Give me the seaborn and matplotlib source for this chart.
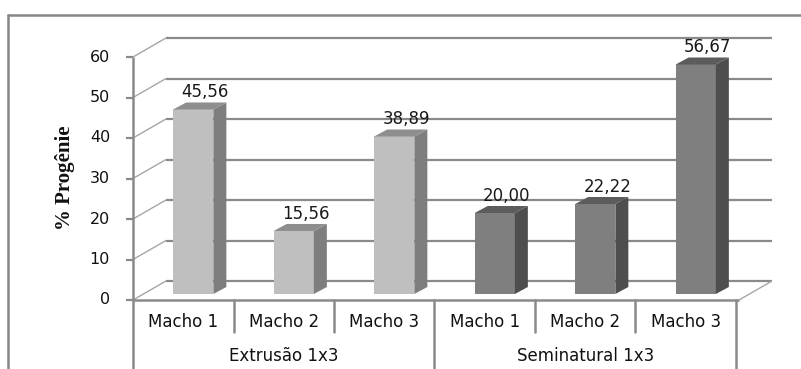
import matplotlib
matplotlib.use("Agg")
import matplotlib.pyplot as plt
import matplotlib.transforms as mtransforms
from matplotlib.patches import Polygon
from matplotlib.lines import Line2D
import numpy as np
import pandas as pd
import seaborn as sns

# ---- data -------------------------------------------------------------
groups = ["Extrusão 1x3", "Seminatural 1x3"]
machos = ["Macho 1", "Macho 2", "Macho 3"]
extrusao = [45.56, 15.56, 38.89]
seminatural = [20.00, 22.22, 56.67]
yticks = [0, 10, 20, 30, 40, 50, 60]
ylabel = "% Progênie"

df = pd.DataFrame({
    "grupo": [groups[0]] * 3 + [groups[1]] * 3,
    "macho": machos * 2,
    "prog": extrusao + seminatural,
})
df["slot"] = df["grupo"] + " / " + df["macho"]

# shading of the pseudo-3D columns: front, side, top
front_col = {groups[0]: "#bfbfbf", groups[1]: "#7f7f7f"}
side_col = {groups[0]: "#7e7e7e", groups[1]: "#4e4e4e"}
top_col = {groups[0]: "#8e8e8e", groups[1]: "#5c5c5c"}

sns.set_theme(style="white")
plt.rcParams["font.family"] = ["DejaVu Sans"]

W, H = 801, 369
fig = plt.figure(figsize=(W / 100, H / 100), dpi=100)
fig.patch.set_facecolor("white")

# front plane of the plot area (pixel layout)
px_left, px_right = 133, 736
px_zero, px_top = 300, 57
ax = fig.add_axes([px_left / W, (H - px_zero) / H,
                   (px_right - px_left) / W, (px_zero - px_top) / H])

sns.barplot(data=df, x="slot", y="prog", hue="grupo", palette=front_col,
            dodge=False, width=0.4, saturation=1, legend=False, ax=ax,
            zorder=3)
ax.set_xlim(-0.5, 5.5)
ax.set_ylim(0, 60)
ax.autoscale(False)
ax.set_axis_off()

ident = mtransforms.IdentityTransform()
grid_c = "#8a8a8a"
wall_dx, wall_dy = 33, 19      # depth of the back wall
bar_dx, bar_dy = 10, 6         # columns stand a bit behind the front edge
dep_dx, dep_dy = 13, 7         # depth of each column


def disp(x, y, dx=0.0, dy=0.0):
    p = ax.transData.transform((x, y))
    return np.array([p[0] + dx, p[1] + dy])


def seg(p, q, color, lw, z=0.5):
    ax.add_artist(Line2D([p[0], q[0]], [p[1], q[1]], transform=ident,
                         color=color, lw=lw, zorder=z, clip_on=False,
                         solid_capstyle="butt"))


x_lo, x_hi = -0.5, 5.53
# back wall gridlines and side-wall diagonals
for v in yticks:
    a = disp(x_lo, v, wall_dx, wall_dy)
    b = disp(x_hi, v, wall_dx, wall_dy)
    seg(a, b, grid_c, 1.6)
    seg(disp(x_lo, v), a, "#a6a6a6", 1.0)
    # tick mark on the front axis
    seg(disp(x_lo, v, -7), disp(x_lo, v), grid_c, 1.6)
    ax.text(x_lo, v, str(v), transform=mtransforms.offset_copy(
        ax.transData, fig=fig, x=-23, y=0, units="dots"),
        ha="right", va="center", fontsize=11.5, color="#111111")

# floor: right diagonal and front edge
seg(disp(x_hi, 0), disp(x_hi, 0, wall_dx, wall_dy), "#a6a6a6", 1.0)
seg(disp(x_lo, 0), disp(x_hi, 0), grid_c, 1.8, z=1)
# front vertical axis
seg(disp(x_lo, 0), disp(x_lo, 60), grid_c, 1.8, z=1)

# pseudo-3D faces of the columns
bar_tr = mtransforms.offset_copy(ax.transData, fig=fig, x=bar_dx, y=bar_dy,
                                 units="dots")
for patch in list(ax.patches):
    x0 = patch.get_x()
    w = patch.get_width()
    h = patch.get_height()
    x1 = x0 + w
    idx = int(round(x0 + w / 2))
    g = df["grupo"].iloc[idx]
    patch.set_transform(bar_tr)
    patch.set_edgecolor("none")
    patch.set_facecolor(front_col[g])
    fl = disp(x0, h, bar_dx, bar_dy)
    fr = disp(x1, h, bar_dx, bar_dy)
    br = disp(x1, 0, bar_dx, bar_dy)
    d = np.array([dep_dx, dep_dy])
    ax.add_artist(Polygon([br, fr, fr + d, br + d], closed=True,
                          transform=ident, facecolor=side_col[g],
                          edgecolor="none", zorder=3, clip_on=False))
    ax.add_artist(Polygon([fl, fr, fr + d, fl + d], closed=True,
                          transform=ident, facecolor=top_col[g],
                          edgecolor="none", zorder=3, clip_on=False))

# value labels above each column
lab_tr = mtransforms.offset_copy(ax.transData, fig=fig, x=22, y=23,
                                 units="dots")
for i, v in enumerate(df["prog"]):
    ax.text(i, v, f"{v:.2f}".replace(".", ","), transform=lab_tr,
            ha="center", va="center", fontsize=12, color="#1a1a1a", zorder=5)

# two-level category table under the axis
bt = mtransforms.blended_transform_factory(ax.transData, fig.transFigure)
y_axis_f = (H - px_zero) / H
y_inner_f = (H - 332) / H
for b in [-0.5, 0.5, 1.5, 2.5, 3.5, 4.5, 5.5]:
    outer = b in (-0.5, 2.5, 5.5)
    ax.add_artist(Line2D([b, b], [y_axis_f, 0.0 if outer else y_inner_f],
                         transform=bt, color=grid_c, lw=1.8,
                         clip_on=False, zorder=1))
for i, m in enumerate(df["macho"]):
    ax.text(i, (H - 322) / H, m, transform=bt, ha="center", va="center",
            fontsize=12, color="#111111")
for gi, g in enumerate(groups):
    ax.text(gi * 3 + 1, (H - 356) / H, g, transform=bt, ha="center",
            va="center", fontsize=12, color="#111111")

# axis title
fig.text(65 / W, (H - 178) / H, ylabel, rotation=90, ha="center",
         va="center", fontsize=15, fontweight="bold",
         family=["Liberation Serif", "DejaVu Serif"], color="#111111")

# outer chart frame
fig.add_artist(Line2D([8 / W, 1.0], [(H - 15) / H, (H - 15) / H],
                      transform=fig.transFigure, color="#878787", lw=1.8))
fig.add_artist(Line2D([8 / W, 8 / W], [0.0, (H - 15) / H],
                      transform=fig.transFigure, color="#878787", lw=1.8))

fig.savefig("out.png", dpi=100, facecolor="white")
